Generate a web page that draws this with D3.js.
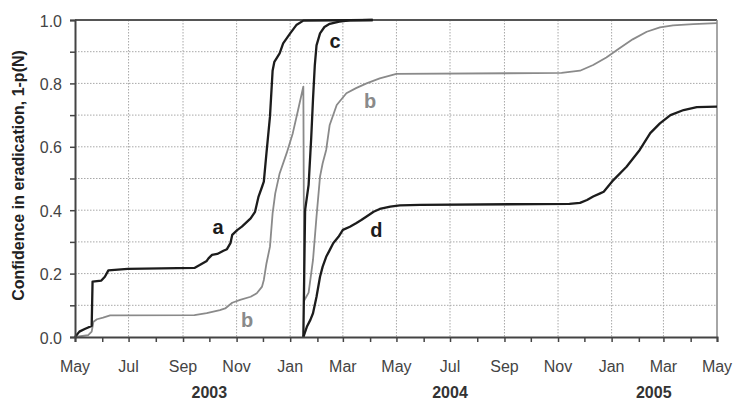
<!DOCTYPE html>
<html>
<head>
<meta charset="utf-8">
<script src="https://cdn.jsdelivr.net/npm/d3@7"></script>
<style>
  html, body { margin: 0; padding: 0; background: #fff; }
  svg { display: block; font-family: "Liberation Sans", Arial, sans-serif; }
</style>
</head>
<body>
<svg id="chart" width="737" height="405"></svg>
<script>
// Confidence in eradication over time, curves a-d

// curve a (black)
const aDates = ['2003-05-01','2003-05-06','2003-05-12','2003-05-16','2003-05-20','2003-05-21','2003-05-31','2003-06-04','2003-06-08','2003-06-30','2003-09-14','2003-09-20','2003-09-28','2003-09-30','2003-10-04','2003-10-10','2003-10-17','2003-10-21','2003-10-25','2003-10-27','2003-11-02','2003-11-07','2003-11-17','2003-11-22','2003-11-26','2003-11-30','2003-12-02','2003-12-05','2003-12-09','2003-12-12','2003-12-14','2003-12-20','2003-12-24','2004-01-01','2004-01-08','2004-01-16','2004-04-04'];
const aValues = [0, 0.017, 0.025, 0.03, 0.035, 0.175, 0.178, 0.19, 0.21, 0.215, 0.218, 0.227, 0.24, 0.248, 0.259, 0.262, 0.272, 0.277, 0.296, 0.322, 0.338, 0.348, 0.374, 0.395, 0.443, 0.474, 0.49, 0.58, 0.695, 0.84, 0.868, 0.895, 0.926, 0.958, 0.984, 0.998, 1.0];

// curve b (grey)
const bDates = ['2003-05-01','2003-05-16','2003-05-20','2003-05-22','2003-05-26','2003-06-02','2003-06-10','2003-09-14','2003-09-28','2003-10-13','2003-10-19','2003-10-27','2003-11-05','2003-11-17','2003-11-24','2003-11-30','2003-12-02','2003-12-05','2003-12-09','2003-12-12','2003-12-15','2003-12-20','2003-12-28','2004-01-04','2004-01-10','2004-01-16','2004-01-17','2004-01-22','2004-01-27','2004-01-31','2004-02-04','2004-02-07','2004-02-11','2004-02-15','2004-02-23','2004-03-05','2004-03-16','2004-03-28','2004-04-12','2004-05-01','2004-11-05','2004-11-26','2004-12-11','2004-12-26','2005-01-10','2005-01-25','2005-02-10','2005-02-25','2005-03-12','2005-04-04','2005-05-01'];
const bValues = [0, 0.006, 0.017, 0.048, 0.056, 0.061, 0.068, 0.069, 0.075, 0.085, 0.09, 0.108, 0.117, 0.127, 0.138, 0.159, 0.18, 0.232, 0.285, 0.39, 0.453, 0.516, 0.58, 0.643, 0.716, 0.79, 0.115, 0.14, 0.243, 0.38, 0.506, 0.548, 0.59, 0.669, 0.732, 0.769, 0.785, 0.8, 0.816, 0.83, 0.833, 0.84, 0.858, 0.882, 0.911, 0.939, 0.963, 0.977, 0.983, 0.987, 0.99];

// curve c (black)
const cDates = ['2004-01-16','2004-01-18','2004-01-22','2004-01-24','2004-01-25','2004-01-27','2004-01-29','2004-01-31','2004-02-04','2004-02-09','2004-02-15','2004-02-26','2004-03-09','2004-04-04'];
const cValues = [0, 0.40, 0.48, 0.58, 0.63, 0.75, 0.855, 0.92, 0.958, 0.978, 0.988, 0.995, 0.999, 1.0];

// curve d (black)
const dDates = ['2004-01-16','2004-01-20','2004-01-24','2004-01-27','2004-01-31','2004-02-04','2004-02-07','2004-02-11','2004-02-15','2004-02-19','2004-02-25','2004-03-01','2004-03-09','2004-03-16','2004-03-22','2004-03-28','2004-04-05','2004-04-12','2004-04-24','2004-05-05','2004-05-28','2004-11-14','2004-11-26','2004-12-04','2004-12-11','2004-12-19','2004-12-23','2005-01-03','2005-01-18','2005-02-02','2005-02-14','2005-02-25','2005-03-09','2005-03-24','2005-04-08','2005-05-01'];
const dValues = [0, 0.032, 0.054, 0.075, 0.127, 0.19, 0.222, 0.253, 0.274, 0.296, 0.316, 0.338, 0.348, 0.359, 0.369, 0.38, 0.395, 0.404, 0.411, 0.415, 0.417, 0.42, 0.423, 0.432, 0.443, 0.453, 0.458, 0.495, 0.537, 0.59, 0.643, 0.674, 0.7, 0.716, 0.725, 0.727];

// curve letters
const labelText = ['a', 'b', 'b', 'c', 'd'];
const labelDates = ['2003-10-11', '2003-11-13', '2004-04-01', '2004-02-21', '2004-04-08'];
const labelValues = [0.325, 0.0325, 0.723, 0.911, 0.3145];
const labelGrey = [false, true, true, false, false];

// axis text
const yearLabels = ['2003', '2004', '2005'];
const yearDates = ['2003-10-01', '2004-07-01', '2005-02-18'];
const yTitle = 'Confidence in eradication, 1-p(N)';

const parse = d3.timeParse('%Y-%m-%d');
const BLACK = '#1c1c1c';
const GREY = '#8a8a8a';

const svg = d3.select('#chart');
const margin = { left: 75, right: 20, top: 20, bottom: 68 };
const width = 737 - margin.left - margin.right;
const height = 405 - margin.top - margin.bottom;

const x = d3.scaleTime()
    .domain([parse('2003-05-01'), parse('2005-05-01')])
    .range([0, width]);
const y = d3.scaleLinear().domain([0, 1]).range([height, 0]);

const g = svg.append('g').attr('transform', `translate(${margin.left},${margin.top})`);

// dotted grid
const gridColor = '#a8a8a8';
g.append('g').selectAll('line')
    .data(d3.range(1, 10).map(i => i / 10))
    .join('line')
    .attr('x1', 0).attr('x2', width)
    .attr('y1', d => y(d)).attr('y2', d => y(d))
    .attr('stroke', gridColor).attr('stroke-dasharray', '1.5,1.5');
g.append('g').selectAll('line')
    .data(x.ticks(d3.timeMonth.every(2)).slice(1, -1))
    .join('line')
    .attr('x1', d => x(d)).attr('x2', d => x(d))
    .attr('y1', 0).attr('y2', height)
    .attr('stroke', gridColor).attr('stroke-dasharray', '1.5,1.5');

// frame top + right
g.append('line').attr('x1', 0).attr('x2', width).attr('y1', 0).attr('y2', 0)
    .attr('stroke', '#555').attr('stroke-width', 2);
g.append('line').attr('x1', width).attr('x2', width).attr('y1', 0).attr('y2', height)
    .attr('stroke', '#888').attr('stroke-width', 1.5);

// curves
function series(dates, values) {
    return dates.map((d, i) => ({ date: parse(d), value: values[i] }));
}
const line = d3.line().x(d => x(d.date)).y(d => y(d.value));
const curves = [
    { data: series(bDates, bValues), color: GREY, w: 1.8 },
    { data: series(dDates, dValues), color: BLACK, w: 2.3 },
    { data: series(cDates, cValues), color: BLACK, w: 2.3 },
    { data: series(aDates, aValues), color: BLACK, w: 2.3 }
];
g.selectAll('path.curve')
    .data(curves)
    .join('path')
    .attr('class', 'curve')
    .attr('fill', 'none')
    .attr('stroke', d => d.color)
    .attr('stroke-width', d => d.w)
    .attr('stroke-linejoin', 'round')
    .attr('d', d => line(d.data));

// x axis: monthly ticks, labels every 2 months
const xAxis = g.append('g').attr('transform', `translate(0,${height})`)
    .call(d3.axisBottom(x).ticks(d3.timeMonth.every(1)).tickSize(5).tickFormat(''));
xAxis.select('.domain').attr('stroke', '#444').attr('stroke-width', 2);
xAxis.selectAll('.tick line').attr('stroke', '#444').attr('stroke-width', 1.5);

g.append('g').selectAll('text')
    .data(x.ticks(d3.timeMonth.every(2)))
    .join('text')
    .attr('x', d => x(d))
    .attr('y', height + 35)
    .attr('text-anchor', 'middle')
    .attr('font-size', 16)
    .attr('fill', '#444')
    .text(d3.timeFormat('%b'));

g.append('g').selectAll('text')
    .data(yearLabels)
    .join('text')
    .attr('x', (d, i) => x(parse(yearDates[i])))
    .attr('y', height + 61)
    .attr('text-anchor', 'middle')
    .attr('font-size', 16)
    .attr('font-weight', 'bold')
    .attr('fill', '#333')
    .text(d => d);

// y axis
const yAxis = g.append('g')
    .call(d3.axisLeft(y).ticks(10).tickSize(5).tickFormat(''));
yAxis.select('.domain').attr('stroke', '#444').attr('stroke-width', 2);
yAxis.selectAll('.tick line').attr('stroke', '#444').attr('stroke-width', 1.5);

g.append('g').selectAll('text')
    .data(d3.range(0, 6).map(i => i / 5))
    .join('text')
    .attr('x', -13)
    .attr('y', d => y(d) + 6.5)
    .attr('text-anchor', 'end')
    .attr('font-size', 16)
    .attr('fill', '#444')
    .text(d3.format('.1f'));

svg.append('text')
    .attr('transform', `translate(24,${margin.top + height / 2 - 3}) rotate(-90)`)
    .attr('text-anchor', 'middle')
    .attr('font-size', 16)
    .attr('font-weight', 'bold')
    .attr('fill', '#222')
    .text(yTitle);

// curve letters
g.append('g').selectAll('text')
    .data(labelText)
    .join('text')
    .attr('x', (d, i) => x(parse(labelDates[i])))
    .attr('y', (d, i) => y(labelValues[i]))
    .attr('text-anchor', 'middle')
    .attr('font-size', 20)
    .attr('font-weight', 'bold')
    .attr('fill', (d, i) => labelGrey[i] ? GREY : BLACK)
    .text(d => d);
</script>
</body>
</html>
